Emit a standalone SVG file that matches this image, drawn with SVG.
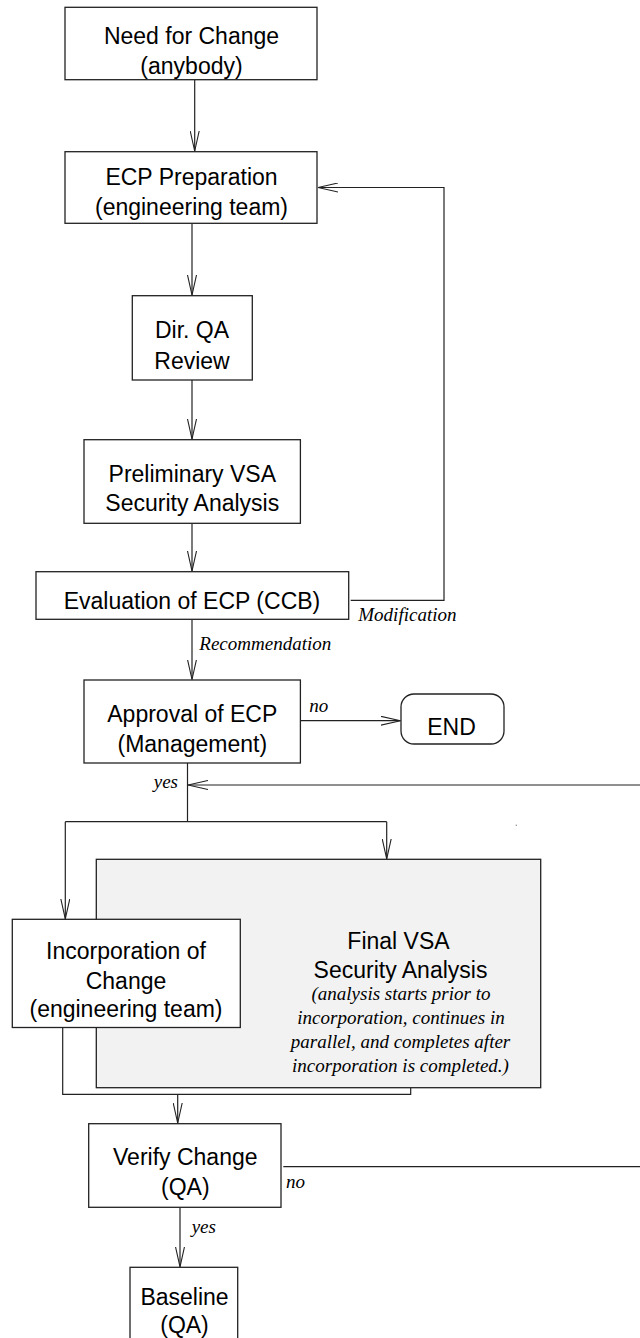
<svg xmlns="http://www.w3.org/2000/svg" width="640" height="1338" viewBox="0 0 640 1338">
  <style>
    .box { fill: #ffffff; stroke: #222222; stroke-width: 1.3; }
    .shade { fill: #f2f2f2; stroke: #222222; stroke-width: 1.3; }
    .lbl { font-family: "Liberation Sans", Arial, sans-serif; font-size: 23px; fill: #000000; text-anchor: middle; }
    .note { font-family: "Liberation Serif", "Times New Roman", serif; font-style: italic; font-size: 19px; fill: #000000; }
    .mid { text-anchor: middle; }
    .end { text-anchor: end; }
    .wire { fill: none; stroke: #222222; stroke-width: 1.2; }
  </style>
  <defs>
    <marker id="arrow" viewBox="0 0 20 10" refX="20" refY="5" markerWidth="20" markerHeight="10" markerUnits="userSpaceOnUse" orient="auto">
      <path d="M0,0.5 L20,5 L0,9.5" fill="none" stroke="#222222" stroke-width="1.1"/>
    </marker>
  </defs>
  <rect width="640" height="1338" fill="#ffffff"/>

  <!-- connectors -->
  <g id="connectors">
    <path class="wire" d="M194.7,80 V151" marker-end="url(#arrow)"/>
    <path class="wire" d="M192,223.5 V295" marker-end="url(#arrow)"/>
    <path class="wire" d="M192,380 V439" marker-end="url(#arrow)"/>
    <path class="wire" d="M192,523.5 V571" marker-end="url(#arrow)"/>
    <!-- modification loop back to preparation -->
    <path class="wire" d="M350.7,600.3 H444 V187.5 H318" marker-end="url(#arrow)"/>
    <path class="wire" d="M192,619.5 V679.5" marker-end="url(#arrow)"/>
    <!-- approval: no -> END -->
    <path class="wire" d="M300,720.7 H400.5" marker-end="url(#arrow)"/>
    <!-- re-entry from failed verification -->
    <path class="wire" d="M640,785 H188" marker-end="url(#arrow)"/>
    <!-- approval: yes -> split -->
    <path class="wire" d="M187.5,763 V821.7"/>
    <path class="wire" d="M65.3,821.7 H386.7"/>
    <path class="wire" d="M65.3,821.7 V918.8" marker-end="url(#arrow)"/>
    <path class="wire" d="M386.7,821.7 V858.8" marker-end="url(#arrow)"/>
    <!-- join after incorporation and final analysis -->
    <path class="wire" d="M62.7,1027.5 V1094.3 H410.7 V1087.7"/>
    <path class="wire" d="M177.7,1094.3 V1123" marker-end="url(#arrow)"/>
    <!-- verify: no -> back to top of incorporation loop -->
    <path class="wire" d="M283.3,1166.7 H640" stroke="#444444" stroke-width="1.5"/>
    <!-- verify: yes -> baseline -->
    <path class="wire" d="M180,1207.5 V1266.8" marker-end="url(#arrow)"/>
    <circle cx="516.3" cy="825.3" r="0.7" fill="#888888"/>
  </g>

  <!-- connector labels -->
  <g id="connector-labels">
    <text class="note" x="358.3" y="621">Modification</text>
    <text class="note" x="199.3" y="650">Recommendation</text>
    <text class="note" x="309.3" y="712.3">no</text>
    <text class="note end" x="178" y="788">yes</text>
    <text class="note" x="286" y="1188">no</text>
    <text class="note" x="191.7" y="1233.3">yes</text>
  </g>

  <g id="need-for-change">
    <rect class="box" x="65" y="7.3" width="252" height="72.4"/>
    <text class="lbl" x="191.5" y="43.5">Need for Change</text>
    <text class="lbl" x="191.5" y="74">(anybody)</text>
  </g>

  <g id="ecp-preparation">
    <rect class="box" x="65" y="151.7" width="252" height="71.6"/>
    <text class="lbl" x="191.5" y="185">ECP Preparation</text>
    <text class="lbl" x="191.5" y="214.5">(engineering team)</text>
  </g>

  <g id="dir-qa-review">
    <rect class="box" x="132.3" y="295.7" width="120" height="84.3"/>
    <text class="lbl" x="192" y="338.3">Dir. QA</text>
    <text class="lbl" x="192" y="369.3">Review</text>
  </g>

  <g id="preliminary-vsa">
    <rect class="box" x="84" y="439.7" width="216.4" height="83.6"/>
    <text class="lbl" x="192.3" y="481.7">Preliminary VSA</text>
    <text class="lbl" x="192.3" y="511">Security Analysis</text>
  </g>

  <g id="evaluation">
    <rect class="box" x="36" y="571.7" width="312.7" height="47.6"/>
    <text class="lbl" x="192" y="609.3">Evaluation of ECP (CCB)</text>
  </g>

  <g id="approval">
    <rect class="box" x="84" y="680" width="216.4" height="83"/>
    <text class="lbl" x="192.3" y="721.7">Approval of ECP</text>
    <text class="lbl" x="192.3" y="751.7">(Management)</text>
  </g>

  <g id="end">
    <rect class="box" x="401" y="694" width="103" height="50" rx="13" ry="13"/>
    <text class="lbl" x="451.5" y="735">END</text>
  </g>

  <g id="final-vsa">
    <rect class="shade" x="96.3" y="859.3" width="444.4" height="228.4"/>
    <text class="lbl" x="398.5" y="949.3">Final VSA</text>
    <text class="lbl" x="400.5" y="978.3">Security Analysis</text>
    <text class="note mid" x="401" y="1000">(analysis starts prior to</text>
    <text class="note mid" x="401" y="1024">incorporation, continues in</text>
    <text class="note mid" x="400.5" y="1048">parallel, and completes after</text>
    <text class="note mid" x="400.5" y="1072">incorporation is completed.)</text>
  </g>

  <g id="incorporation">
    <rect class="box" x="12.3" y="919.3" width="228" height="108.2"/>
    <text class="lbl" x="126" y="959">Incorporation of</text>
    <text class="lbl" x="126" y="988.5">Change</text>
    <text class="lbl" x="126" y="1017">(engineering team)</text>
  </g>

  <g id="verify-change">
    <rect class="box" x="88.7" y="1123.7" width="192.3" height="83.6"/>
    <text class="lbl" x="185.3" y="1165">Verify Change</text>
    <text class="lbl" x="185.3" y="1195">(QA)</text>
  </g>

  <g id="baseline">
    <rect class="box" x="130" y="1267.3" width="107.7" height="90"/>
    <text class="lbl" x="184.5" y="1304.5">Baseline</text>
    <text class="lbl" x="184.5" y="1332.5">(QA)</text>
  </g>
</svg>
